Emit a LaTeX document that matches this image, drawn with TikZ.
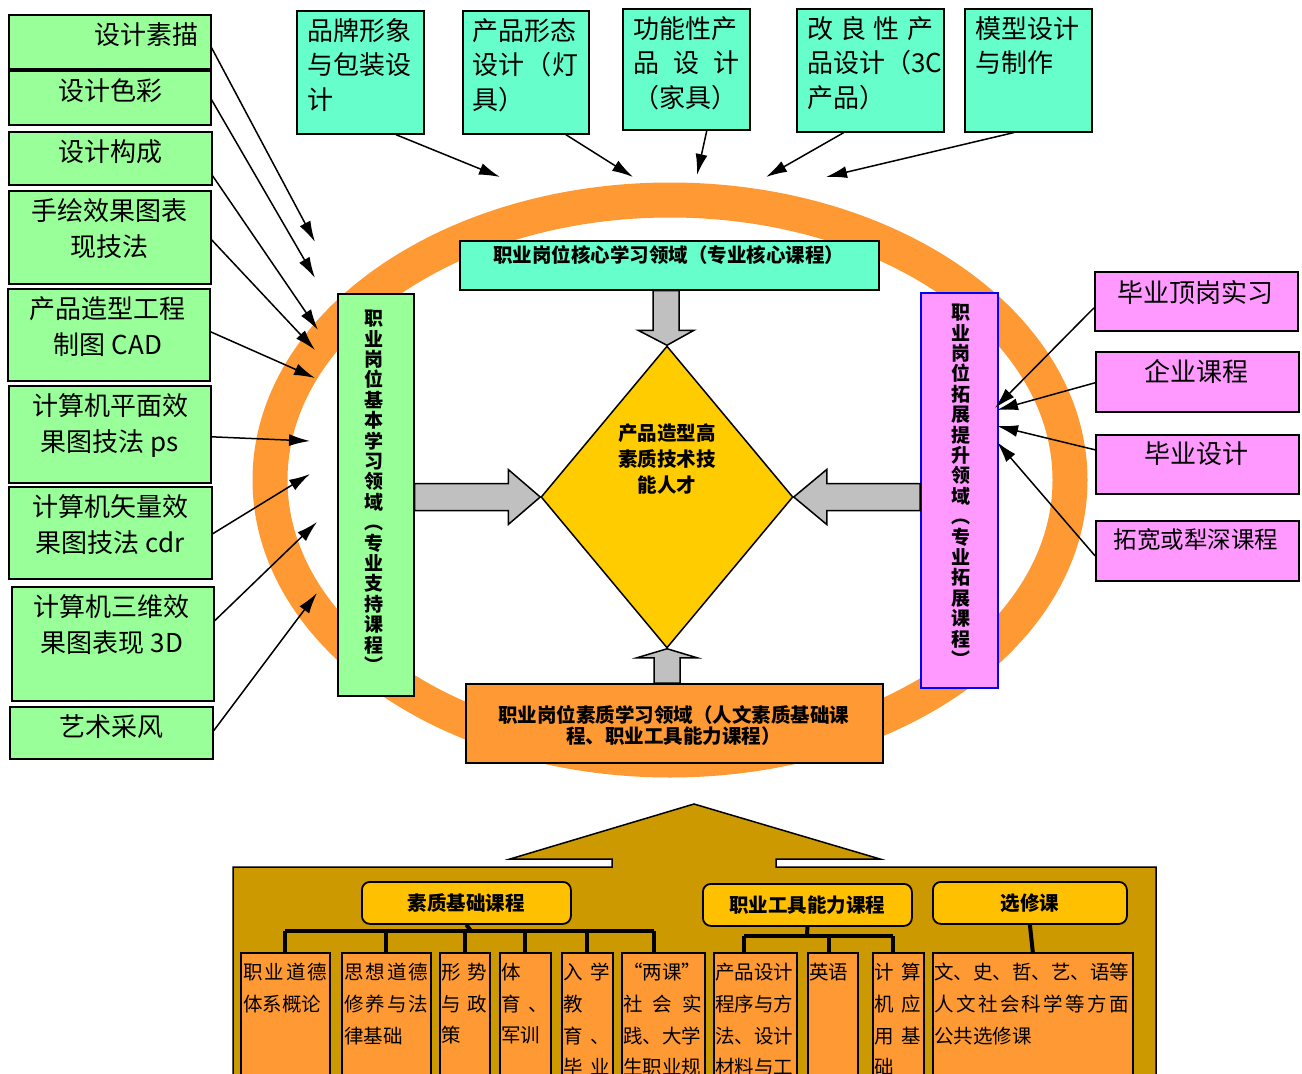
\documentclass[tikz,border=0pt]{standalone}
\usepackage{fontspec}
\setmainfont{Noto Sans CJK SC}
\usetikzlibrary{arrows.meta,shapes.geometric,calc}
\definecolor{cGreen}{HTML}{99FF99}
\definecolor{cAqua}{HTML}{66FFCC}
\definecolor{cPink}{HTML}{FF99FF}
\definecolor{cOrange}{HTML}{FF9933}
\definecolor{cYellow}{HTML}{FFCC00}
\definecolor{cGray}{HTML}{C0C0C0}
\definecolor{cGold}{HTML}{CC9900}
\definecolor{cCat}{HTML}{FFC000}
\begin{document}
\begin{tikzpicture}[x=1pt,y=-1pt,
  bx/.style={draw=black, line width=1.6pt, inner sep=0pt, anchor=north west},
  gbox/.style={bx, fill=cGreen},
  abox/.style={bx, fill=cAqua},
  pbox/.style={bx, fill=cPink},
  obox/.style={bx, fill=cOrange},
  cat/.style={bx, fill=cCat, rounded corners=8pt, line width=1.8pt, font=\fontsize{19.5}{22}\selectfont\bfseries},
  ltext/.style={anchor=north, inner sep=0pt, align=center, font=\fontsize{26}{36}\selectfont},
  ttext/.style={anchor=north west, inner sep=0pt, align=left, font=\fontsize{26}{34.5}\selectfont},
  rtext/.style={anchor=north, inner sep=0pt, align=center, font=\fontsize{26}{34}\selectfont},
  btext/.style={anchor=north, inner sep=0pt, align=center, font=\fontsize{19.5}{21}\selectfont\bfseries},
  vtext/.style={anchor=north, inner sep=0pt, align=center, font=\fontsize{19}{20.4}\selectfont\bfseries},
  stext/.style={anchor=north west, inner sep=0pt, align=left, font=\fontsize{19.5}{31.7}\selectfont},
  arr/.style={line width=1.5pt, -{Latex[length=21pt,width=12pt]}},
  blk/.style={fill=cGray, draw=black, line width=1.5pt, line join=miter},
  tree/.style={line width=4pt, draw=black}]
\useasboundingbox (0,0) rectangle (1302,1074);
\fill[white] (0,0) rectangle (1302,1074);

% orange ring
\draw[cOrange, line width=35pt] (670,480) ellipse [x radius=400pt, y radius=280pt];

% left green boxes
\node[gbox, minimum width=202pt, minimum height=54pt] (L1) at (8,14) {};
\node[gbox, minimum width=202pt, minimum height=54pt] (L2) at (8,70) {};
\node[gbox, minimum width=203pt, minimum height=53pt] (L3) at (8,131) {};
\node[gbox, minimum width=202pt, minimum height=93pt] (L4) at (8,190) {};
\node[gbox, minimum width=202pt, minimum height=92pt] (L5) at (7,288) {};
\node[gbox, minimum width=202pt, minimum height=97pt] (L6) at (8,385) {};
\node[gbox, minimum width=203pt, minimum height=92pt] (L7) at (8,486) {};
\node[gbox, minimum width=202pt, minimum height=114pt] (L8) at (11,586) {};
\node[gbox, minimum width=203pt, minimum height=52pt] (L9) at (9,706) {};
\node[ltext] (L1t) at (146,22) {设计素描};
\node[ltext] (L2t) at (110,78) {设计色彩};
\node[ltext] (L3t) at (110,139) {设计构成};
\node[ltext] (L4t) at (109,198) {手绘效果图表\\现技法};
\node[ltext] (L5t) at (108,296) {产品造型工程\\制图 CAD};
\node[ltext] (L6t) at (110,393) {计算机平面效\\果图技法 ps};
\node[ltext] (L7t) at (110,494) {计算机矢量效\\果图技法 cdr};
\node[ltext] (L8t) at (112,594) {计算机三维效\\果图表现 3D};
\node[ltext] (L9t) at (111,714) {艺术采风};

% top aqua boxes
\node[abox, minimum width=127pt, minimum height=123pt] (A) at (296,10) {};
\node[abox, minimum width=126pt, minimum height=123pt] (B) at (462,10) {};
\node[abox, minimum width=127pt, minimum height=121pt] (C) at (622,8) {};
\node[abox, minimum width=147pt, minimum height=123pt] (D) at (796,8) {};
\node[abox, minimum width=127pt, minimum height=123pt] (E) at (964,8) {};
\node[ttext] (At) at (307,18) {品牌形象\\与包装设\\计};
\node[ttext] (Bt) at (472,18) {产品形态\\\hbox to 106pt{设\hfill 计\hfill （\hfill 灯}\\具）};
\node[ttext] (Ct) at (633,16) {功能性产\\\hbox to 106pt{品\hfill 设\hfill 计}\\（家具）};
\node[ttext] (Dt) at (807,16) {\hbox to 126pt{改\hfill 良\hfill 性\hfill 产}\\品设计（3C\\产品）};
\node[ttext] (Et) at (975,16) {模型设计\\与制作};

% right pink boxes
\node[pbox, minimum width=203pt, minimum height=59pt] (R1) at (1094,271) {};
\node[pbox, minimum width=203pt, minimum height=60pt] (R2) at (1095,351) {};
\node[pbox, minimum width=203pt, minimum height=59pt] (R3) at (1095,434) {};
\node[pbox, minimum width=203pt, minimum height=60pt] (R4) at (1095,520) {};
\node[rtext] (R1t) at (1195,280) {毕业顶岗实习};
\node[rtext] (R2t) at (1196,359) {企业课程};
\node[rtext] (R3t) at (1196,442) {毕业设计};
\node[rtext, font=\fontsize{23.5}{28}\selectfont] (R4t) at (1196,528) {拓宽或犁深课程};

% core boxes
\node[abox, minimum width=419pt, minimum height=49pt] (T) at (459,240) {};
\node[btext] (Tt) at (668.5,245) {职业岗位核心学习领域（专业核心课程）};
\node[gbox, minimum width=76pt, minimum height=402pt] (G) at (337,293) {};
\node[vtext] (Gt) at (374,310) {职\\业\\岗\\位\\基\\本\\学\\习\\领\\域\\︵\\专\\业\\支\\持\\课\\程\\︶};
\node[bx, fill=cPink, draw=blue, minimum width=77pt, minimum height=395pt] (M) at (920,292) {};
\node[vtext] (Mt) at (961,304) {职\\业\\岗\\位\\拓\\展\\提\\升\\领\\域\\︵\\专\\业\\拓\\展\\课\\程\\︶};
\node[bx, fill=cOrange, minimum width=417pt, minimum height=79pt] (BB) at (465,683) {};
\node[btext, anchor=center] (BBt) at (673.5,725) {职业岗位素质学习领域（人文素质基础课\\程、职业工具能力课程）};

% diamond
\node[diamond, draw=black, line width=1.5pt, fill=cYellow, inner sep=0pt, minimum width=252pt, minimum height=302pt] (Dm) at (667,497) {};
\node[btext, anchor=center, font=\fontsize{19.5}{26}\selectfont\bfseries] (Dmt) at (667,459) {产品造型高\\素质技术技\\能人才};

% block arrows
\draw[blk] ($(Dm.north|-T.south)+(-14,0)$) -- ($(Dm.north)+(-14,-15)$) -- ($(Dm.north)+(-29,-15)$) -- (Dm.north) -- ($(Dm.north)+(27,-15)$) -- ($(Dm.north)+(12,-15)$) -- ($(Dm.north|-T.south)+(12,0)$) -- cycle;
\draw[blk] ($(G.east|-Dm.west)+(0,-13.5)$) -- ($(Dm.west)+(-32,-13.5)$) -- ($(Dm.west)+(-32,-27.5)$) -- (Dm.west) -- ($(Dm.west)+(-32,27.5)$) -- ($(Dm.west)+(-32,13.5)$) -- ($(G.east|-Dm.west)+(0,13.5)$) -- cycle;
\draw[blk] ($(M.west|-Dm.east)+(0,-13.5)$) -- ($(Dm.east)+(33,-13.5)$) -- ($(Dm.east)+(33,-27.5)$) -- (Dm.east) -- ($(Dm.east)+(33,27.5)$) -- ($(Dm.east)+(33,13.5)$) -- ($(M.west|-Dm.east)+(0,13.5)$) -- cycle;
\draw[blk] ($(Dm.south|-BB.north)+(-13,0)$) -- ($(Dm.south)+(-13,9)$) -- ($(Dm.south)+(-30,9)$) -- (Dm.south) -- ($(Dm.south)+(30,9)$) -- ($(Dm.south)+(13,9)$) -- ($(Dm.south|-BB.north)+(13,0)$) -- cycle;

% arrow ends
\coordinate (eL1) at (315,242);
\coordinate (eL2) at (315,278);
\coordinate (eL3) at (318,330);
\coordinate (eL4) at (315,350);
\coordinate (eL5) at (315,378);
\coordinate (eL6) at (310,441);
\coordinate (eL7) at (310,474);
\coordinate (eL8) at (317,522);
\coordinate (eL9) at (317,593);
\coordinate (eA) at (500,177);
\coordinate (eB) at (633,177);
\coordinate (eC) at (697,175);
\coordinate (eD) at (766,177);
\coordinate (eE) at (826,177);
\coordinate (eR1) at (995,408);
\coordinate (eR2) at (997,410);
\coordinate (eR3) at (997,426);
\coordinate (eR4) at (997,442);

\draw[arr] ([yshift=-6pt]L1.east) -- (eL1);
\draw[arr] ([yshift=-2pt]L2.east) -- (eL2);
\draw[arr] ([yshift=-17.5pt]L3.east) -- (eL3);
\draw[arr] ([yshift=-2.5pt]L4.east) -- (eL4);
\draw[arr] ([yshift=3pt]L5.east) -- (eL5);
\draw[arr] ([yshift=-2.5pt]L6.east) -- (eL6);
\draw[arr] ([yshift=-1pt]L7.east) -- (eL7);
\draw[arr] ([yshift=23pt]L8.east) -- (eL8);
\draw[arr] ([yshift=2pt]L9.east) -- (eL9);
\draw[arr] ([xshift=35.5pt]A.south) -- (eA);
\draw[arr] ([xshift=40pt]B.south) -- (eB);
\draw[arr] ([xshift=20.5pt]C.south) -- (eC);
\draw[arr] ([xshift=-26.5pt]D.south) -- (eD);
\draw[arr] ([xshift=-14.5pt]E.south) -- (eE);
\draw[arr] ([yshift=-6.5pt]R1.west) -- (eR1);
\draw[arr] ([yshift=-1pt]R2.west) -- (eR2);
\draw[arr] ([yshift=14.5pt]R3.west) -- (eR3);
\draw[arr] ([yshift=-5pt]R4.west) -- (eR4);

% bottom gold house shape
\draw[fill=cGold, draw=black, line width=1.5pt, line join=miter]
  (233,1100) -- (233,867) -- (612,867) -- (612,859) -- (510,859) -- (694,804) -- (880,859) -- (776,859) -- (776,867) -- (1156,867) -- (1156,1100) -- cycle;

% category boxes
\node[cat, minimum width=209pt, minimum height=42pt] (C1) at (361,881) {素质基础课程};
\node[cat, minimum width=209pt, minimum height=42pt] (C2) at (702,883) {职业工具能力课程};
\node[cat, minimum width=194pt, minimum height=42pt] (C3) at (932,881) {选修课};

% course boxes
\node[obox, minimum width=89pt, minimum height=148pt] (b1) at (240,952) {};
\node[obox, minimum width=89pt, minimum height=148pt] (b2) at (341,952) {};
\node[obox, minimum width=50pt, minimum height=148pt] (b3) at (439,952) {};
\node[obox, minimum width=51pt, minimum height=148pt] (b4) at (499,952) {};
\node[obox, minimum width=51pt, minimum height=148pt] (b5) at (561,952) {};
\node[obox, minimum width=83pt, minimum height=148pt] (b6) at (621,952) {};
\node[obox, minimum width=83pt, minimum height=148pt] (b7) at (713,952) {};
\node[obox, minimum width=50pt, minimum height=148pt] (b8) at (807,952) {};
\node[obox, minimum width=51pt, minimum height=148pt] (b9) at (872,952) {};
\node[obox, minimum width=200pt, minimum height=148pt] (b10) at (932,952) {};

\node[stext] (b1t) at (243,963) {\hbox to 84pt{职\hfill 业\hfill 道\hfill 德}\\体系概论};
\node[stext] (b2t) at (344,963) {\hbox to 84pt{思\hfill 想\hfill 道\hfill 德}\\\hbox to 84pt{修\hfill 养\hfill 与\hfill 法}\\律基础};
\node[stext] (b3t) at (441,963) {\hbox to 46pt{形\hfill 势}\\\hbox to 46pt{与\hfill 政}\\策};
\node[stext] (b4t) at (501,963) {体\\\hbox to 47pt{育\hfill 、}\\军训};
\node[stext] (b5t) at (563,963) {\hbox to 47pt{入\hfill 学}\\教\\\hbox to 47pt{育\hfill 、}\\\hbox to 47pt{毕\hfill 业}};
\node[stext] (b6t) at (623,963) {“两课”\\\hbox to 79pt{社\hfill 会\hfill 实}\\践、大学\\生职业规};
\node[stext] (b7t) at (715,963) {产品设计\\程序与方\\法、设计\\材料与工};
\node[stext] (b8t) at (809,963) {英语};
\node[stext] (b9t) at (874,963) {\hbox to 47pt{计\hfill 算}\\\hbox to 47pt{机\hfill 应}\\\hbox to 47pt{用\hfill 基}\\础};
\node[stext] (b10t) at (934,963) {文、史、哲、艺、语等\\\hbox to 195pt{人\hfill 文\hfill 社\hfill 会\hfill 科\hfill 学\hfill 等\hfill 方\hfill 面}\\公共选修课};

% tree connectors
\coordinate (bus1) at (471,931);
\coordinate (bus2) at (807,936);
\draw[tree] (C1.south) -- (bus1);
\draw[tree] (b1.north|-bus1) -- ([xshift=-9pt]b6.north|-bus1);
\foreach \b in {b1,b2,b3,b4,b5} \draw[tree] (\b.north|-bus1) -- (\b.north);
\draw[tree] ([xshift=-9pt]b6.north|-bus1) -- ([xshift=-9pt]b6.north);
\draw[tree] (C2.south) -- (bus2);
\draw[tree] ([xshift=-11pt]b7.north|-bus2) -- ([xshift=-5pt]b9.north|-bus2);
\draw[tree] ([xshift=-11pt]b7.north|-bus2) -- ([xshift=-11pt]b7.north);
\draw[tree] ([xshift=-4pt]b8.north|-bus2) -- ([xshift=-4pt]b8.north);
\draw[tree] ([xshift=-5pt]b9.north|-bus2) -- ([xshift=-5pt]b9.north);
\draw[tree] (C3.south) -- (b10.north);
\end{tikzpicture}
\end{document}
